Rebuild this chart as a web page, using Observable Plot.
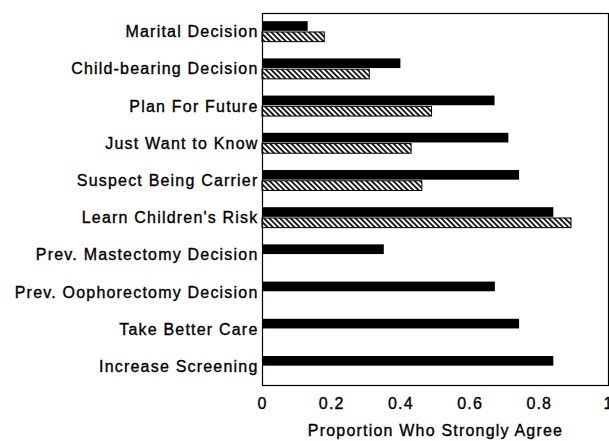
<!DOCTYPE html>
<html>
<head>
<meta charset="utf-8">
<script src="https://cdn.jsdelivr.net/npm/d3@7"></script>
<script src="https://cdn.jsdelivr.net/npm/@observablehq/plot@0.6"></script>
<style>
  html, body { margin: 0; padding: 0; background: #fff; }
  #chart { width: 609px; height: 441px; overflow: hidden; }
  #chart svg text { letter-spacing: 1.2px; stroke: #000; stroke-width: 0.35px; }
</style>
</head>
<body>
<div id="chart"></div>
<script>
const categories = [
  "Marital Decision",
  "Child-bearing Decision",
  "Plan For Future",
  "Just Want to Know",
  "Suspect Being Carrier",
  "Learn Children's Risk",
  "Prev. Mastectomy Decision",
  "Prev. Oophorectomy Decision",
  "Take Better Care",
  "Increase Screening"
];
const solidValues   = [0.132, 0.40, 0.672, 0.712, 0.743, 0.842, 0.352, 0.673, 0.743, 0.842];
const hatchedValues = [0.18, 0.31, 0.49, 0.431, 0.462, 0.893, null, null, null, null];
const xTicks = [0, 0.2, 0.4, 0.6, 0.8, 1];
const xLabel = "Proportion Who Strongly Agree";

const solid = categories.map((c, i) => ({i, c, v: solidValues[i]}));
const hatched = categories.map((c, i) => ({i, c, v: hatchedValues[i]})).filter(d => d.v != null);
const fmt = d => d === 0 ? "0" : d === 1 ? "1" : String(d);

const chart = Plot.plot({
  width: 609,
  height: 441,
  marginLeft: 262,
  marginRight: 1,
  marginTop: 13,
  marginBottom: 56,
  style: {fontFamily: "'Liberation Sans', Arial, sans-serif", fontSize: "16px", color: "#000", background: "#fff"},
  x: {domain: [0, 1], ticks: xTicks, tickFormat: fmt},
  y: {domain: [-0.5, 9.5], reverse: true},
  marks: [
    Plot.rectX(solid, {x1: 0, x2: "v", y1: d => d.i - 0.28, y2: d => d.i - 0.02, fill: "#000"}),
    Plot.rectX(hatched, {x1: 0, x2: "v", y1: d => d.i + 0.01, y2: d => d.i + 0.27, fill: "url(#hatch)", stroke: "#000", strokeWidth: 1}),
    Plot.frame({stroke: "#000", strokeWidth: 1.2}),
    Plot.axisX({ticks: xTicks, tickSize: 0, tickPadding: 12, label: null, fontSize: 16, tickFormat: fmt}),
    Plot.axisY({ticks: d3.range(categories.length), tickSize: 0, tickPadding: 4, label: null, fontSize: 16,
      tickFormat: i => categories[i]}),
    Plot.text([xLabel], {frameAnchor: "bottom", lineAnchor: "middle", dy: 45, fontSize: 16, text: d => d})
  ]
});

const ns = "http://www.w3.org/2000/svg";
const defs = document.createElementNS(ns, "defs");
defs.innerHTML = `<pattern id="hatch" patternUnits="userSpaceOnUse" width="3.8" height="10" patternTransform="rotate(-45)">
  <rect width="3.8" height="10" fill="#fff"></rect>
  <line x1="1.9" y1="-1" x2="1.9" y2="11" stroke="#000" stroke-width="1.7"></line>
</pattern>`;
chart.insertBefore(defs, chart.firstChild);
document.getElementById("chart").appendChild(chart);
</script>
</body>
</html>
